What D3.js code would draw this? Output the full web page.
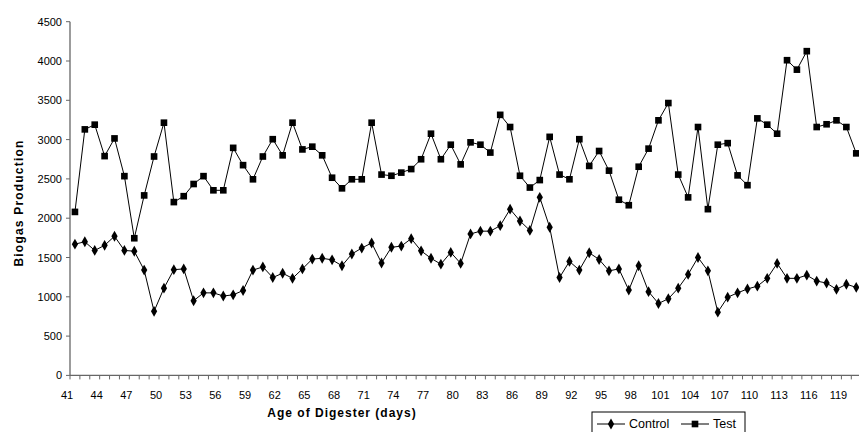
<!DOCTYPE html>
<html>
<head>
<meta charset="utf-8">
<script src="https://cdn.jsdelivr.net/npm/d3@7"></script>
<style>
  body { margin: 0; background: #fff; }
  svg { display: block; font-family: "Liberation Sans", Arial, sans-serif; }
</style>
</head>
<body>
<svg id="chart"></svg>
<script>
const width = 859;
const height = 432;

// days 41..120
const days = d3.range(41, 121);
const tickLabels = d3.range(41, 121, 3);
const yTicks = d3.range(0, 4501, 500);

const control = [
  1670, 1700, 1590, 1655, 1770, 1590, 1580, 1340, 815, 1110,
  1345, 1355, 950, 1050, 1050, 1010, 1025, 1080, 1340, 1380,
  1245, 1300, 1235, 1355, 1480, 1490, 1470, 1395, 1545, 1620,
  1685, 1430, 1630, 1645, 1740, 1585, 1490, 1415, 1565, 1425,
  1800, 1835, 1835, 1905, 2115, 1965, 1845, 2265, 1885, 1245,
  1450, 1340, 1560, 1475, 1330, 1355, 1085, 1395, 1065, 915,
  975, 1110, 1285, 1500, 1330, 805, 995, 1050, 1100, 1135,
  1235, 1425, 1235, 1235, 1275, 1200, 1175, 1095, 1160, 1120
];

const test = [
  2080, 3130, 3190, 2790, 3015, 2535, 1745, 2290, 2785, 3215,
  2205, 2280, 2435, 2535, 2355, 2355, 2895, 2675, 2495, 2785,
  3005, 2800, 3215, 2875, 2910, 2800, 2515, 2380, 2495, 2495,
  3215, 2555, 2540, 2580, 2625, 2750, 3075, 2750, 2935, 2685,
  2965, 2935, 2835, 3315, 3160, 2540, 2390, 2485, 3035, 2555,
  2495, 3005, 2665, 2855, 2605, 2235, 2165, 2655, 2885, 3245,
  3465, 2555, 2265, 3160, 2115, 2935, 2955, 2545, 2420, 3270,
  3190, 3075, 4010, 3890, 4125, 3160, 3195, 3245, 3160, 2825
];

const series = [
  { name: "Control", values: control, shape: d3.symbolDiamond, size: 34 },
  { name: "Test", values: test, shape: d3.symbolSquare, size: 44 }
];

const svg = d3.select('#chart')
    .attr('width', width).attr('height', height);

const x = d3.scaleBand()
    .domain(days)
    .range([70, 70 + days.length * 9.89]);
const y = d3.scaleLinear()
    .domain([0, 4500])
    .range([375.4, 21.7]);

const cx = d => x(d) + x.bandwidth() / 2;

// y axis
const yAxis = svg.append('g');
yAxis.append('line')
    .attr('x1', 70).attr('x2', 70)
    .attr('y1', y(4500)).attr('y2', y(0))
    .attr('stroke', '#666').attr('stroke-width', 1.3);
yAxis.selectAll('.ytick')
    .data(yTicks)
    .enter().append('line')
    .attr('x1', 66).attr('x2', 70)
    .attr('y1', d => y(d)).attr('y2', d => y(d))
    .attr('stroke', '#666');
yAxis.selectAll('text')
    .data(yTicks)
    .enter().append('text')
    .attr('x', 62)
    .attr('y', d => y(d) + 4)
    .attr('text-anchor', 'end')
    .style('font-size', '11px')
    .text(d => d);

// x axis
const xAxis = svg.append('g');
xAxis.append('line')
    .attr('x1', 70).attr('x2', width)
    .attr('y1', y(0)).attr('y2', y(0))
    .attr('stroke', '#666').attr('stroke-width', 1.3);
xAxis.selectAll('.xtick')
    .data(days)
    .enter().append('line')
    .attr('x1', d => x(d)).attr('x2', d => x(d))
    .attr('y1', y(0)).attr('y2', y(0) + 4)
    .attr('stroke', '#666');
xAxis.selectAll('text')
    .data(tickLabels)
    .enter().append('text')
    .attr('x', d => x(d) - 3)
    .attr('y', 399)
    .attr('text-anchor', 'middle')
    .style('font-size', '11px')
    .text(d => d);

// titles
svg.append('text')
    .attr('transform', 'translate(23,203) rotate(-90)')
    .attr('text-anchor', 'middle')
    .style('font-size', '12px')
    .style('letter-spacing', '1.2px')
    .style('font-weight', 'bold')
    .text('Biogas Production');
svg.append('text')
    .attr('x', 342).attr('y', 417)
    .attr('text-anchor', 'middle')
    .style('font-size', '12px')
    .style('letter-spacing', '1px')
    .style('font-weight', 'bold')
    .text('Age of Digester (days)');

// lines + markers
const line = d3.line()
    .x((v, i) => cx(days[i]))
    .y(v => y(v));

series.forEach(s => {
  const g = svg.append('g');
  g.append('path')
      .datum(s.values)
      .attr('d', line)
      .attr('fill', 'none')
      .attr('stroke', '#000')
      .attr('stroke-width', 1);
  g.selectAll('path.mark')
      .data(s.values)
      .enter().append('path')
      .attr('class', 'mark')
      .attr('d', d3.symbol().type(s.shape).size(s.size))
      .attr('transform', (v, i) => `translate(${cx(days[i])},${y(v)})`)
      .attr('fill', '#000');
});

// legend
const legend = svg.append('g').attr('transform', 'translate(592,412)');
legend.append('rect')
    .attr('x', 0).attr('y', 0)
    .attr('width', 153).attr('height', 30)
    .attr('fill', '#fff').attr('stroke', '#000');
const legendX = [5, 89];
const item = legend.selectAll('g.item')
    .data(series)
    .enter().append('g')
    .attr('class', 'item')
    .attr('transform', (d, i) => `translate(${legendX[i]},0)`);
item.append('line')
    .attr('x1', 0).attr('x2', 28)
    .attr('y1', 12).attr('y2', 12)
    .attr('stroke', '#000');
item.append('path')
    .attr('d', d => d3.symbol().type(d.shape).size(d.size)())
    .attr('transform', 'translate(14,12)')
    .attr('fill', '#000');
item.append('text')
    .attr('x', 32).attr('y', 16)
    .style('font-size', '12.5px')
    .text(d => d.name);
</script>
</body>
</html>
